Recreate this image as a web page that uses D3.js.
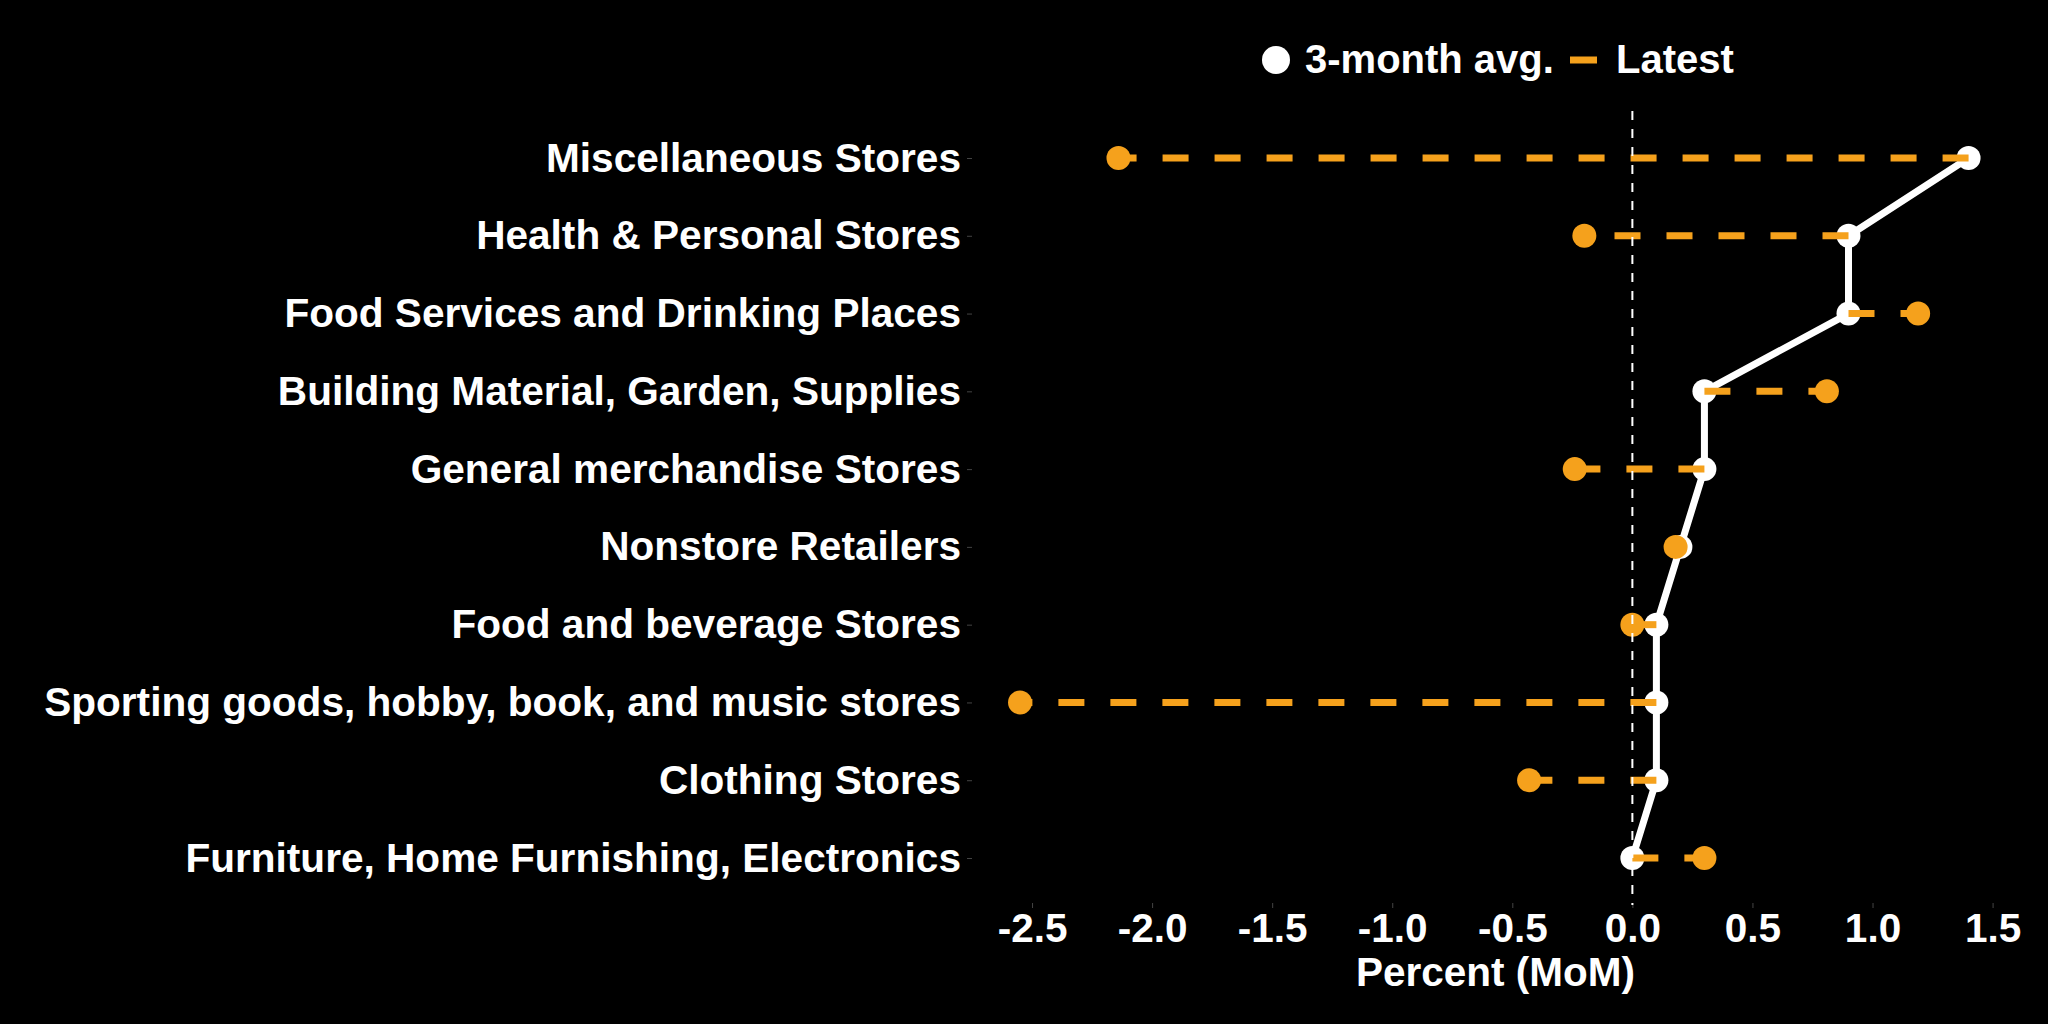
<!DOCTYPE html>
<html>
<head>
<meta charset="utf-8">
<script src="https://cdn.jsdelivr.net/npm/d3@7"></script>
<style>
  html, body { margin: 0; padding: 0; background: #000; }
  svg { display: block; }
  text { font-family: "Liberation Sans", Arial, sans-serif; font-weight: bold; fill: #fff; }
</style>
</head>
<body>
<svg id="chart" width="2048" height="1024"></svg>
<script>
// categories top to bottom
const categories = [
    'Miscellaneous Stores',
    'Health & Personal Stores',
    'Food Services and Drinking Places',
    'Building Material, Garden, Supplies',
    'General merchandise Stores',
    'Nonstore Retailers',
    'Food and beverage Stores',
    'Sporting goods, hobby, book, and music stores',
    'Clothing Stores',
    'Furniture, Home Furnishing, Electronics'
];
const avg3m = [1.4, 0.9, 0.9, 0.3, 0.3, 0.2, 0.1, 0.1, 0.1, 0.0];
const latest = [-2.14, -0.2, 1.19, 0.81, -0.24, 0.18, 0.0, -2.55, -0.43, 0.3];
const xTicks = [-2.5, -2.0, -1.5, -1.0, -0.5, 0.0, 0.5, 1.0, 1.5];
const legendLabels = ['3-month avg.', 'Latest'];

const orange = '#F5A11C';
const width = 2048;
const height = 1024;
const panel = { left: 972, right: 2019, top: 111, bottom: 905 };

const svg = d3.select('#chart');
svg.append('rect').attr('width', width).attr('height', height).attr('fill', '#000');

const rows = categories.map((c, i) => ({ cat: c, avg: avg3m[i], latest: latest[i] }));

const xScale = d3.scaleLinear()
    .domain([-2.75, 1.61])
    .range([panel.left, panel.right]);

const yScale = d3.scalePoint()
    .domain(categories)
    .range([158, 858]);

// plain hyphen minus like the original
const fmt = (d) => d.toFixed(1);

// axes
const xAxis = (g) => g
    .attr('transform', `translate(0,${panel.bottom - 2})`)
    .call(d3.axisBottom(xScale).tickValues(xTicks).tickFormat(fmt).tickSize(5).tickPadding(5))
    .call((g) => g.select('.domain').remove())
    .call((g) => g.selectAll('line').attr('stroke', '#444'))
    .call((g) => g.selectAll('text').attr('fill', '#fff').style('font-size', '40.5px')
        .style('font-family', '"Liberation Sans", Arial, sans-serif').style('font-weight', 'bold'));

const yAxis = (g) => g
    .attr('transform', `translate(${panel.left},0)`)
    .call(d3.axisLeft(yScale).tickSize(5).tickPadding(6))
    .call((g) => g.select('.domain').remove())
    .call((g) => g.selectAll('line').attr('stroke', '#444'))
    .call((g) => g.selectAll('text').attr('fill', '#fff').style('font-size', '40.6px')
        .style('font-family', '"Liberation Sans", Arial, sans-serif').style('font-weight', 'bold'));

svg.append('g').call(xAxis);
svg.append('g').call(yAxis);

// axis title
svg.append('text')
    .attr('x', (panel.left + panel.right) / 2)
    .attr('y', 986)
    .attr('text-anchor', 'middle')
    .style('font-size', '40.5px')
    .text('Percent (MoM)');

// 3-month avg path
const line = d3.line()
    .x((d) => xScale(d.avg))
    .y((d) => yScale(d.cat));

svg.append('path')
    .datum(rows)
    .attr('d', line)
    .attr('fill', 'none')
    .attr('stroke', '#fff')
    .attr('stroke-width', 7)
    .attr('stroke-linejoin', 'round');

svg.selectAll('.avg-dot')
    .data(rows)
    .enter()
    .append('circle')
    .attr('class', 'avg-dot')
    .attr('cx', (d) => xScale(d.avg))
    .attr('cy', (d) => yScale(d.cat))
    .attr('r', 12)
    .attr('fill', '#fff');

// dashed segment avg -> latest
svg.selectAll('.seg')
    .data(rows)
    .enter()
    .append('line')
    .attr('class', 'seg')
    .attr('x1', (d) => xScale(d.avg))
    .attr('x2', (d) => xScale(d.latest))
    .attr('y1', (d) => yScale(d.cat))
    .attr('y2', (d) => yScale(d.cat))
    .attr('stroke', orange)
    .attr('stroke-width', 7)
    .attr('stroke-dasharray', '26,26');

svg.selectAll('.latest-dot')
    .data(rows)
    .enter()
    .append('circle')
    .attr('class', 'latest-dot')
    .attr('cx', (d) => xScale(d.latest))
    .attr('cy', (d) => yScale(d.cat))
    .attr('r', 12)
    .attr('fill', orange);

// zero line on top
svg.append('line')
    .attr('x1', xScale(0))
    .attr('x2', xScale(0))
    .attr('y1', panel.top)
    .attr('y2', panel.bottom)
    .attr('stroke', '#fff')
    .attr('stroke-width', 2)
    .attr('stroke-dasharray', '9,9');

// legend
const legend = svg.append('g');
legend.append('circle')
    .attr('cx', 1276)
    .attr('cy', 60)
    .attr('r', 14)
    .attr('fill', '#fff');
legend.append('text')
    .attr('x', 1305)
    .attr('y', 73)
    .style('font-size', '40px')
    .text(legendLabels[0]);
legend.append('line')
    .attr('x1', 1570)
    .attr('x2', 1597)
    .attr('y1', 60)
    .attr('y2', 60)
    .attr('stroke', orange)
    .attr('stroke-width', 7);
legend.append('text')
    .attr('x', 1616)
    .attr('y', 73)
    .style('font-size', '40px')
    .text(legendLabels[1]);
</script>
</body>
</html>
